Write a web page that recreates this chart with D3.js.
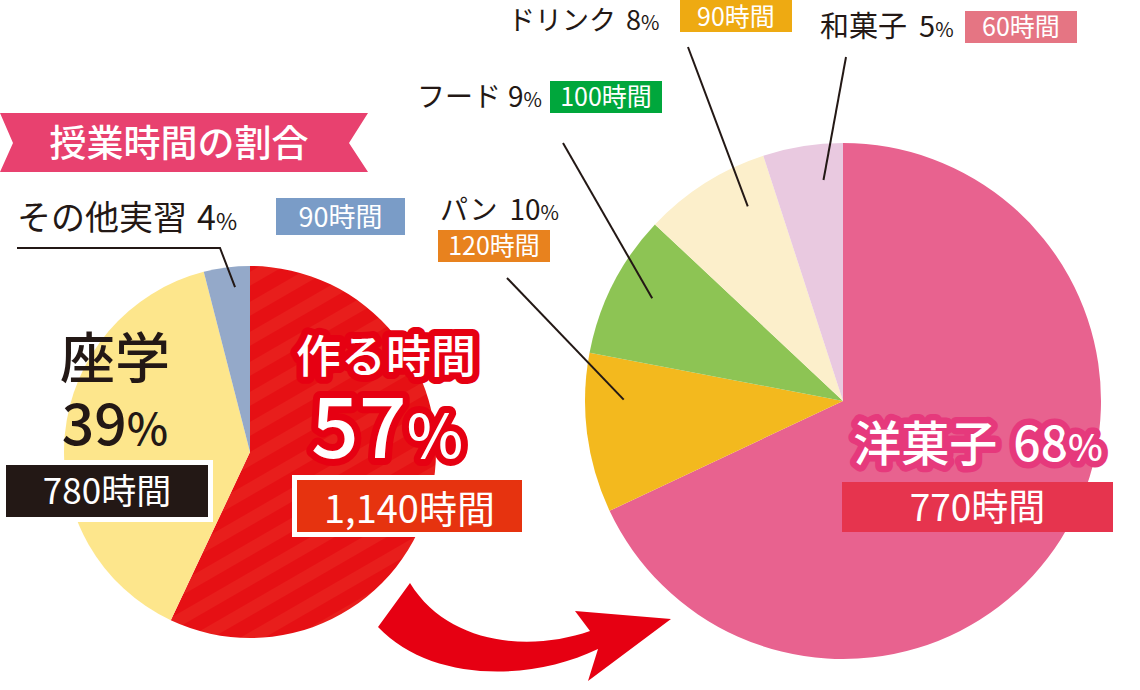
<!DOCTYPE html>
<html><head><meta charset="utf-8">
<script src="https://cdn.jsdelivr.net/npm/d3@7"></script>
<style>
html,body{margin:0;padding:0;background:#fff;}
svg{display:block;}
text{font-family:"Noto Sans CJK JP","Noto Sans",sans-serif;}
</style></head>
<body>
<svg id="chart" width="1140" height="690"></svg>
<script>
// ---- data ----
const leftCategories = ["作る時間", "座学", "その他実習"];
const leftValues = [57, 39, 4];
const leftHours = ["1,140時間", "780時間", "90時間"];

const rightCategories = ["洋菓子", "パン", "フード", "ドリンク", "和菓子"];
const rightValues = [68, 10, 9, 8, 5];
const rightHours = ["770時間", "120時間", "100時間", "90時間", "60時間"];

const title = "授業時間の割合";

// ---- styles ----
const leftColors = ["url(#stripes)", "#fde68c", "#94a9c9"];
const rightColors = ["#e8628f", "#f3b91e", "#8dc454", "#fcefcb", "#e9c9e0"];
const BOLD = 500, NORMAL = 400;

const svg = d3.select("#chart");
const defs = svg.append("defs");
const pat = defs.append("pattern").attr("id", "stripes").attr("patternUnits", "userSpaceOnUse")
  .attr("width", 26).attr("height", 26).attr("patternTransform", "rotate(-30)");
pat.append("rect").attr("width", 26).attr("height", 26).attr("fill", "#e61014");
pat.append("rect").attr("width", 26).attr("height", 12).attr("fill", "#e81e1c");

const pie = d3.pie().sort(null).value(d => d);

// ---- left pie ----
const L = {cx: 250, cy: 452, r: 186};
const gL = svg.append("g").attr("transform", `translate(${L.cx},${L.cy})`);
const arcL = d3.arc().innerRadius(0).outerRadius(L.r);
const leftArcs = pie(leftValues);
gL.selectAll("path").data(leftArcs).join("path")
  .attr("d", arcL).attr("fill", (d, i) => leftColors[i]);

// ---- right pie ----
const R = {cx: 843, cy: 401, r: 258};
const gR = svg.append("g").attr("transform", `translate(${R.cx},${R.cy})`);
const arcR = d3.arc().innerRadius(0).outerRadius(R.r);
const rightArcs = pie(rightValues);
gR.selectAll("path").data(rightArcs).join("path")
  .attr("d", arcR).attr("fill", (d, i) => rightColors[i]);

// point inside a slice, frac across its angle, rf of radius
function slicePoint(c, a, frac, rf) {
  const ang = a.startAngle + (a.endAngle - a.startAngle) * frac;
  return [c.cx + Math.sin(ang) * c.r * rf, c.cy - Math.cos(ang) * c.r * rf];
}

// ---- arrow ----
svg.append("path")
  .attr("d", "M410,583 C448,645 530,652 590,631 L575,611 L671,619 L588,681 L598,649 C530,682 430,682 378,627 Z")
  .attr("fill", "#e60012");

// ---- ribbon title ----
svg.append("path").attr("d", "M0,113 L368,113 L349,143 L368,172 L0,172 L13,143 Z").attr("fill", "#e8416f");
svg.append("text").attr("x", 179).attr("y", 157).attr("text-anchor", "middle")
  .attr("font-size", 37).style("font-weight", BOLD).attr("fill", "#fff").text(title);

// helpers
function labelBox(x, y, w, h, fill, txt, size, base, border) {
  if (border) svg.append("rect").attr("x", x - border).attr("y", y - border)
    .attr("width", w + 2 * border).attr("height", h + 2 * border).attr("fill", "#fff");
  svg.append("rect").attr("x", x).attr("y", y).attr("width", w).attr("height", h).attr("fill", fill);
  svg.append("text").attr("x", x + w / 2).attr("y", base).attr("text-anchor", "middle")
    .attr("font-size", size).style("font-weight", NORMAL).attr("fill", "#fff").text(txt);
}
function pctLabel(x, y, name, pct, size, psize, gap) {
  const t = svg.append("text").attr("x", x).attr("y", y).attr("font-size", size)
    .style("font-weight", NORMAL).attr("fill", "#231815");
  t.append("tspan").text(name);
  t.append("tspan").attr("dx", gap).text(pct);
  t.append("tspan").attr("font-size", psize).text("%");
  return t;
}
function leader(points) {
  svg.append("polyline").attr("points", points.map(p => p.join(",")).join(" "))
    .attr("fill", "none").attr("stroke", "#231815").attr("stroke-width", 2);
}

// ---- left labels ----
// その他実習
pctLabel(17, 230, leftCategories[2], leftValues[2], 34, 23, 10);
labelBox(276, 198, 129, 37, "#7a9cc7", leftHours[2], 27, 227);
leader([[17, 248], [220, 248], slicePoint(L, leftArcs[2], 0.64, 0.89)]);

// 座学
svg.append("text").attr("x", 115).attr("y", 378).attr("text-anchor", "middle")
  .attr("font-size", 55).style("font-weight", BOLD).attr("fill", "#231815").text(leftCategories[1]);
{
  const t = svg.append("text").attr("x", 115).attr("y", 445).attr("text-anchor", "middle")
    .attr("font-size", 57).style("font-weight", BOLD).attr("fill", "#231815");
  t.append("tspan").text(leftValues[1]);
  t.append("tspan").attr("font-size", 44).text("%");
}
labelBox(6, 465, 202, 52, "#231815", leftHours[1], 35, 504, 5);

// outlined white text (stroke painted under fill)
function outlined(x, y, size, stroke, sw, parts) {
  const t = svg.append("text").attr("x", x).attr("y", y).attr("text-anchor", "middle")
    .attr("font-size", size).style("font-weight", BOLD).attr("fill", "#fff")
    .attr("stroke", stroke).attr("stroke-width", sw).attr("stroke-linejoin", "round")
    .attr("paint-order", "stroke");
  parts.forEach(p => {
    const s = t.append("tspan").text(p.t);
    if (p.s) s.attr("font-size", p.s);
    if (p.dx) s.attr("dx", p.dx);
  });
}
// 作る時間
outlined(386, 373, 45, "#e60012", 14, [{t: leftCategories[0]}]);
outlined(387, 458, 84, "#e60012", 14, [{t: leftValues[0]}, {t: "%", s: 60}]);
labelBox(297, 480, 225, 52, "#e6330f", leftHours[0], 38, 523, 5);

// ---- right labels ----
// 洋菓子
outlined(978, 461, 48, "#e6397c", 13, [{t: rightCategories[0]}, {t: rightValues[0], dx: 16}, {t: "%", s: 37}]);
labelBox(842, 482, 271, 50, "#e6344e", rightHours[0], 37, 521);

// パン
pctLabel(440, 220, rightCategories[1], rightValues[1], 28, 20, 12);
labelBox(438, 230, 112, 32, "#e8821e", rightHours[1], 25, 255);
leader([[507, 278], slicePoint(R, rightArcs[1], 0.71, 0.85)]);

// フード
pctLabel(417, 107, rightCategories[2], rightValues[2], 28, 20, 7);
labelBox(550, 81, 112, 32, "#00a73c", rightHours[2], 25, 106);
leader([[563, 143], slicePoint(R, rightArcs[2], 0.54, 0.84)]);

// ドリンク
pctLabel(508, 30, rightCategories[3], rightValues[3], 27, 20, 10);
labelBox(680, 0, 112, 32, "#eeaa12", rightHours[3], 25, 26);
leader([[688, 47], slicePoint(R, rightArcs[3], 0.72, 0.84)]);

// 和菓子
pctLabel(820, 37, rightCategories[4], rightValues[4], 29, 20, 12);
labelBox(965, 11, 112, 32, "#e57583", rightHours[4], 25, 36);
leader([[846, 57], slicePoint(R, rightArcs[4], 0.72, 0.86)]);
</script>
</body></html>
